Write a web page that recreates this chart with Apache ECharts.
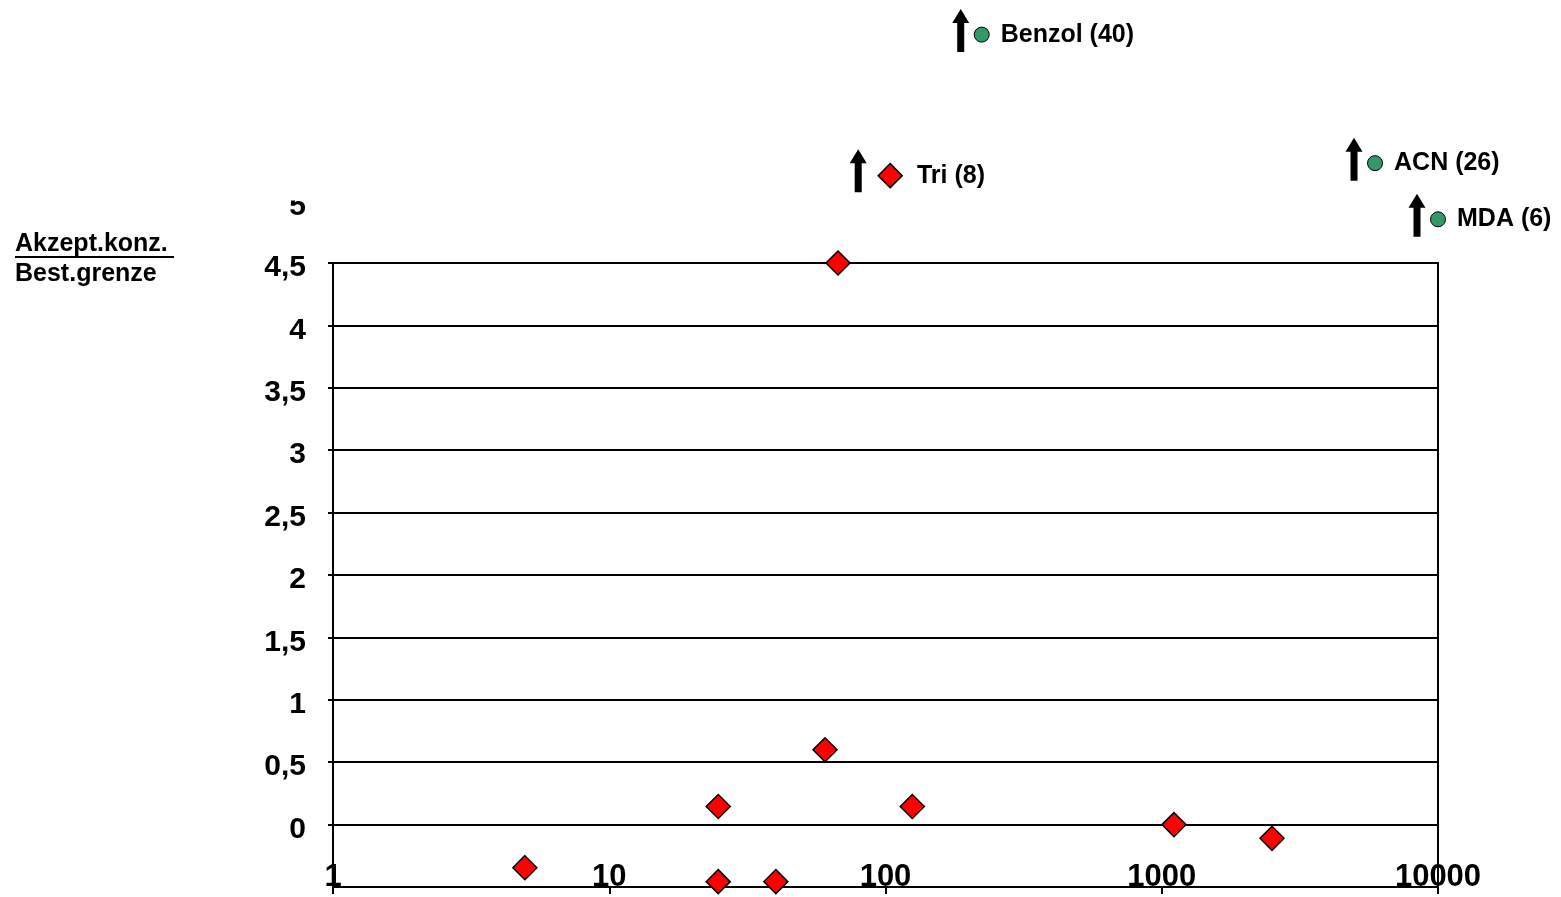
<!DOCTYPE html>
<html>
<head>
<meta charset="utf-8">
<script src="https://cdn.jsdelivr.net/npm/echarts@6/dist/echarts.min.js"></script>
<style>
html,body{margin:0;padding:0;background:#fff;}
#c{width:1561px;height:897px;}
</style>
</head>
<body>
<div id="c"></div>
<script>
// ---- data ----
const redX = [4.95, 24.8, 24.8, 40.1, 60.4, 67.3, 125, 1107, 2507];
const redY = [-0.345, 0.145, -0.457, -0.457, 0.60, 4.50, 0.145, 0.0, -0.11];

// points above the plotted range (shown with an arrow)
const triName = ['Tri (8)'];
const triX = [104];
const triY = [5.20];

const greenNames = ['Benzol (40)', 'ACN (26)', 'MDA (6)'];
const greenX = [223, 5916, 10000];
const greenY = [6.33, 5.30, 4.85];

const xTicks = [1, 10, 100, 1000, 10000];
const yTitleTop = 'Akzept.konz.';
const yTitleBottom = 'Best.grenze';
const yHiddenLabel = '5';

const FONT = 'Liberation Sans, Arial, sans-serif';

const chart = echarts.init(document.getElementById('c'));

const arrowPath = 'path://M8.5,0 L17,14 L12,14 L12,43 L5,43 L5,14 L0,14 Z';

const arrowData = [];
triX.forEach((x, i) => arrowData.push({value: [x, triY[i]], symbolOffset: [-32, -5]}));
greenX.forEach((x, i) => arrowData.push({value: [x, greenY[i]], symbolOffset: [-21, -4]}));

const labelStyle = {
  show: true, position: 'right', distance: 11,
  color: '#000', fontFamily: FONT, fontWeight: 'bold', fontSize: 25,
  formatter: p => p.name
};

const option = {
  animation: false,
  backgroundColor: '#fff',
  grid: {left: 333, right: 123, top: 263, bottom: 10, show: true,
         borderColor: '#000', borderWidth: 2, backgroundColor: 'transparent'},
  xAxis: {
    type: 'log', logBase: 10, min: 1, max: 10000,
    axisLine: {show: true, onZero: false, lineStyle: {color: '#000', width: 2}},
    axisTick: {show: true, inside: false, length: 7, lineStyle: {color: '#000', width: 2}},
    axisLabel: {inside: true, margin: -6, color: '#000', fontFamily: FONT,
                fontWeight: 'bold', fontSize: 31,
                formatter: v => xTicks.indexOf(v) >= 0 ? String(v) : ''},
    splitLine: {show: false},
    minorTick: {show: false}
  },
  yAxis: {
    type: 'value', min: -0.5, max: 4.5, interval: 0.5,
    axisLine: {show: true, lineStyle: {color: '#000', width: 2}},
    axisTick: {show: true, inside: false, length: 5, lineStyle: {color: '#000', width: 2}},
    axisLabel: {showMinLabel: false, margin: 27, color: '#000', fontFamily: FONT,
                fontWeight: 'bold', fontSize: 30, verticalAlign: 'top', lineHeight: 10,
                formatter: v => String(v).replace('.', ',')},
    splitLine: {show: true, lineStyle: {color: '#000', width: 2}}
  },
  series: [
    {
      type: 'scatter', name: 'red',
      data: redX.map((x, i) => [x, redY[i]]),
      symbol: 'diamond', symbolSize: 24, clip: false,
      itemStyle: {color: '#FF0000', borderColor: '#000', borderWidth: 1.5, opacity: 1}
    },
    {
      type: 'scatter', name: 'tri',
      data: triX.map((x, i) => ({name: triName[i], value: [x, triY[i]]})),
      symbol: 'diamond', symbolSize: 24, clip: false,
      itemStyle: {color: '#FF0000', borderColor: '#000', borderWidth: 1.5, opacity: 1},
      label: Object.assign({}, labelStyle, {distance: 14})
    },
    {
      type: 'scatter', name: 'green',
      data: greenX.map((x, i) => ({name: greenNames[i], value: [x, greenY[i]]})),
      symbol: 'circle', symbolSize: 15, clip: false,
      itemStyle: {color: '#339966', borderColor: '#000', borderWidth: 1, opacity: 1},
      label: labelStyle
    },
    {
      type: 'scatter', name: 'arrows',
      data: arrowData, symbol: arrowPath, symbolSize: [17, 43], clip: false,
      itemStyle: {color: '#000', opacity: 1}, silent: true
    }
  ]
};
chart.setOption(option);

// the clipped top tick label "5" (only its lower half is visible in the reference)
const y5 = chart.convertToPixel({yAxisIndex: 0}, 5);
chart.setOption({
  graphic: [
    {id: 't1', type: 'text', left: 15, top: 232,
     style: {text: yTitleTop, fill: '#000', font: 'bold 25px ' + FONT}},
    {id: 'u1', type: 'line', shape: {x1: 15, y1: 257, x2: 174, y2: 257},
     style: {stroke: '#000', lineWidth: 2}},
    {id: 't2', type: 'text', left: 15, top: 262,
     style: {text: yTitleBottom, fill: '#000', font: 'bold 25px ' + FONT}},
    {id: 'five', type: 'text', x: 306, y: y5 + 6, z: 10,
     style: {text: yHiddenLabel, fill: '#000', font: 'bold 30px ' + FONT,
             textAlign: 'right', textVerticalAlign: 'middle'}},
    {id: 'cover', type: 'rect', shape: {x: 270, y: y5 - 40, width: 50, height: 40}, z: 20,
     style: {fill: '#fff'}}
  ]
});
</script>
</body>
</html>
